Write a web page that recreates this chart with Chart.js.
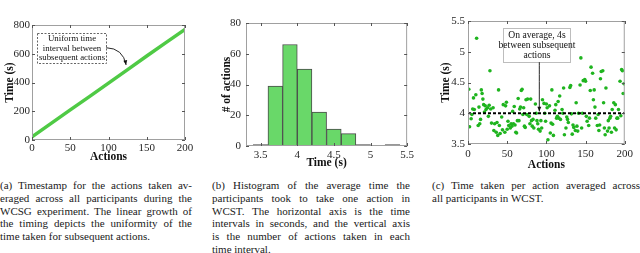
<!DOCTYPE html>
<html>
<head>
<meta charset="utf-8">
<script src="https://cdn.jsdelivr.net/npm/chart.js@4.4.1/dist/chart.umd.min.js"></script>
<style>
  html, body { margin: 0; padding: 0; background: #fff; }
  body { width: 640px; height: 253px; position: relative; overflow: hidden; font-family: 'Liberation Serif', 'Times New Roman', serif; }
  canvas { position: absolute; top: 0; }
  .cap { position: absolute; top: 179px; font-size: 11px; line-height: 12.8px; color: #1a1a1a; }
  .cap div { text-align: justify; text-align-last: justify; white-space: nowrap; height: 12.8px; }
  .cap div.last { text-align-last: left; }
</style>
</head>
<body>
<canvas id="chartA" width="200" height="164" style="left:0px"></canvas>
<canvas id="chartB" width="212" height="170" style="left:205px"></canvas>
<canvas id="chartC" width="212" height="172" style="left:425px"></canvas>

<div class="cap" style="left:0px; width:192px;">
  <div>(a) Timestamp for the actions taken av-</div>
  <div>eraged across all participants during the</div>
  <div>WCSG experiment. The linear growth of</div>
  <div>the timing depicts the uniformity of the</div>
  <div class="last">time taken for subsequent actions.</div>
</div>
<div class="cap" style="left:212px; width:198px;">
  <div>(b) Histogram of the average time the</div>
  <div>participants took to take one action in</div>
  <div>WCST. The horizontal axis is the time</div>
  <div>intervals in seconds, and the vertical axis</div>
  <div>is the number of actions taken in each</div>
  <div class="last">time interval.</div>
</div>
<div class="cap" style="left:432px; width:208px;">
  <div>(c) Time taken per action averaged across</div>
  <div class="last">all participants in WCST.</div>
</div>

<script>
// (a) marca de tiempo acumulada por acción
const lineActions = [0, 25, 50, 75, 100, 125, 150, 175, 200];
const lineTimes = [22, 116, 210, 302, 396, 490, 584, 677, 770];
const ticksActions = [0, 50, 100, 150, 200];
const ticksTimeA = [0, 200, 400, 600, 800];

// (b) histograma: centros de cada intervalo de 0.2 s y su conteo
const binCenters = [3.5, 3.7, 3.9, 4.1, 4.3, 4.5, 4.7, 4.9, 5.1, 5.3];
const binCounts = [1, 39, 66, 50, 22, 11, 8, 1, 0, 1];
const ticksTimeB = [3.5, 4, 4.5, 5, 5.5];
const ticksCount = [0, 20, 40, 60, 80];

// (c) tiempo por acción (promedio entre participantes)
const scatterActions = [
  1, 2, 4, 5, 6, 7, 8, 10, 11, 13,
  14, 15, 16, 17, 18, 19, 20, 21, 22, 23,
  25, 26, 27, 28, 29, 30, 32, 33, 34, 36,
  37, 38, 39, 40, 41, 43, 44, 45, 47, 48,
  49, 50, 51, 52, 54, 55, 56, 57, 58, 59,
  60, 61, 62, 63, 64, 65, 66, 67, 68, 69,
  70, 71, 72, 73, 74, 75, 76, 78, 79, 80,
  81, 82, 83, 84, 86, 87, 88, 89, 90, 92,
  93, 94, 95, 97, 98, 99, 100, 101, 102, 104,
  105, 106, 107, 108, 109, 111, 112, 113, 114, 115,
  116, 117, 118, 120, 121, 122, 123, 125, 126, 127,
  128, 130, 131, 132, 133, 134, 135, 137, 138, 139,
  140, 141, 143, 144, 145, 146, 147, 149, 150, 151,
  152, 154, 155, 156, 157, 159, 160, 161, 162, 163,
  165, 166, 167, 168, 169, 170, 172, 173, 174, 175,
  176, 178, 179, 180, 181, 182, 183, 184, 186, 187,
  188, 189, 190, 191, 192, 194, 195, 196, 197, 198,
  199
];
const scatterTimes = [
  4.39, 3.78, 3.91, 3.98, 4.07, 4.25, 4.06, 4.30, 5.22, 3.80,
  4.10, 3.83, 3.90, 4.38, 4.32, 4.23, 4.14, 4.02, 4.12, 4.06,
  4.09, 3.95, 4.13, 4.69, 4.07, 3.84, 4.09, 3.72, 3.83, 3.69,
  3.85, 3.64, 4.38, 3.80, 3.67, 3.94, 3.73, 4.14, 3.69, 4.12,
  4.18, 3.74, 3.87, 3.80, 3.76, 3.83, 3.79, 4.03, 3.83, 4.11,
  3.81, 3.69, 3.68, 3.88, 4.24, 3.88, 4.07, 4.10, 4.37, 4.39,
  3.98, 4.09, 3.79, 3.77, 4.22, 3.98, 4.23, 3.95, 3.83, 4.23,
  3.88, 3.79, 3.90, 3.76, 4.15, 4.00, 3.88, 3.83, 3.74, 3.71,
  3.88, 3.76, 4.22, 4.16, 4.00, 3.87, 4.15, 4.09, 3.57, 4.12,
  3.68, 3.84, 4.38, 3.82, 3.64, 4.05, 4.14, 3.92, 3.95, 4.19,
  3.92, 4.28, 3.90, 4.06, 4.00, 4.41, 3.65, 3.76, 3.94, 3.90,
  3.85, 4.42, 4.45, 3.99, 3.66, 3.81, 3.77, 3.72, 4.17, 3.79,
  3.71, 4.00, 4.46, 4.90, 3.76, 4.00, 4.53, 4.55, 4.52, 3.95,
  3.87, 3.80, 3.92, 4.37, 4.75, 4.65, 4.22, 4.38, 4.10, 3.92,
  3.80, 3.98, 3.72, 3.81, 4.56, 4.68, 4.69, 4.17, 3.76, 3.65,
  4.41, 3.71, 3.88, 3.76, 3.92, 3.95, 3.69, 4.06, 4.17, 3.76,
  4.14, 3.73, 3.92, 3.92, 4.06, 4.52, 3.96, 4.71, 4.69, 4.32,
  4.48
];
const avgTime = 4;
const ticksTimeC = [3.5, 4, 4.5, 5, 5.5];

const SERIF = "'Liberation Serif', 'Times New Roman', serif";
Chart.defaults.font.family = SERIF;
Chart.defaults.color = '#262626';
Chart.defaults.animation = false;

// Marco alrededor del área del gráfico y marcas de escala hacia dentro (estilo MATLAB)
const frameTicks = {
  id: 'frameTicks',
  afterDatasetsDraw(chart) {
    const { ctx, chartArea: a, scales: { x, y } } = chart;
    ctx.save();
    ctx.strokeStyle = '#a0a0a0';
    ctx.lineWidth = 1;
    ctx.strokeRect(a.left + 0.5, a.top + 0.5, a.width - 1, a.height - 1);
    ctx.strokeStyle = '#555';
    ctx.beginPath();
    x.ticks.forEach(t => {
      const px = Math.round(x.getPixelForValue(t.value)) + 0.5;
      ctx.moveTo(px, a.bottom); ctx.lineTo(px, a.bottom - 3);
      ctx.moveTo(px, a.top); ctx.lineTo(px, a.top + 3);
    });
    y.ticks.forEach(t => {
      const py = Math.round(y.getPixelForValue(t.value)) + 0.5;
      ctx.moveTo(a.left, py); ctx.lineTo(a.left + 3, py);
      ctx.moveTo(a.right, py); ctx.lineTo(a.right - 3, py);
    });
    ctx.stroke();
    ctx.restore();
  }
};

// Cuadro de texto con flecha, ubicado en coordenadas de datos
const noteBox = {
  id: 'noteBox',
  afterDraw(chart, args, opts) {
    if (!opts || !opts.lines) return;
    const { ctx, scales: { x, y } } = chart;
    const X = v => x.getPixelForValue(v), Y = v => y.getPixelForValue(v);
    const l = Math.round(X(opts.x1)) + 0.5, r = Math.round(X(opts.x2)) + 0.5;
    const t = Math.round(Y(opts.y1)) + 0.5, b = Math.round(Y(opts.y2)) + 0.5;
    ctx.save();
    ctx.fillStyle = '#fff';
    ctx.fillRect(l, t, r - l, b - t);
    ctx.strokeStyle = opts.borderColor;
    ctx.lineWidth = 1;
    ctx.setLineDash(opts.dash || []);
    ctx.strokeRect(l, t, r - l, b - t);
    ctx.setLineDash([]);
    ctx.fillStyle = '#111';
    ctx.font = opts.fontSize + 'px ' + SERIF;
    ctx.textAlign = 'center';
    ctx.textBaseline = 'middle';
    const cx = (l + r) / 2, cy = (t + b) / 2;
    const n = opts.lines.length;
    opts.lines.forEach((s, i) => ctx.fillText(s, cx, cy + (i - (n - 1) / 2) * opts.lineGap));
    // flecha
    const a = opts.arrow;
    const p0 = [X(a.from[0]), Y(a.from[1])], p2 = [X(a.to[0]), Y(a.to[1])];
    const p1 = a.ctrl ? [X(a.ctrl[0]), Y(a.ctrl[1])] : p0;
    ctx.strokeStyle = '#111';
    ctx.lineWidth = 0.9;
    ctx.beginPath();
    ctx.moveTo(p0[0], p0[1]);
    ctx.quadraticCurveTo(p1[0], p1[1], p2[0], p2[1]);
    ctx.stroke();
    const ang = Math.atan2(p2[1] - p1[1], p2[0] - p1[0]);
    ctx.fillStyle = '#111';
    ctx.beginPath();
    ctx.moveTo(p2[0], p2[1]);
    ctx.lineTo(p2[0] - 5 * Math.cos(ang - 0.4), p2[1] - 5 * Math.sin(ang - 0.4));
    ctx.lineTo(p2[0] - 5 * Math.cos(ang + 0.4), p2[1] - 5 * Math.sin(ang + 0.4));
    ctx.closePath();
    ctx.fill();
    ctx.restore();
  }
};

// Construye un eje lineal con marcas fijas
function axis(min, max, tickValues, size, isX, title, titlePad, tickPad) {
  return {
    type: 'linear',
    min: min,
    max: max,
    offset: false,
    grid: { display: false, drawTicks: false },
    border: { display: false },
    afterBuildTicks: s => { s.ticks = tickValues.map(v => ({ value: v })); },
    afterFit: s => { if (isX) s.height = size; else s.width = size; },
    ticks: { font: { size: 11 }, padding: tickPad, maxRotation: 0, autoSkip: false, callback: v => String(v) },
    title: { display: true, text: title, font: { size: 11.5, weight: 'bold' }, color: '#111', padding: titlePad }
  };
}

// (a)
new Chart(document.getElementById('chartA'), {
  type: 'line',
  data: {
    datasets: [{
      data: lineActions.map((a, i) => ({ x: a, y: lineTimes[i] })),
      borderColor: '#4fca45',
      borderWidth: 3.5,
      pointRadius: 0,
      tension: 0
    }]
  },
  options: {
    responsive: false,
    layout: { padding: { top: 25, right: 15, left: 0, bottom: 0 } },
    plugins: {
      legend: { display: false },
      tooltip: { enabled: false },
      noteBox: {
        x1: 6.5, x2: 97, y1: 746, y2: 537,
        borderColor: '#666', dash: [2, 1.5], fontSize: 8.8, lineGap: 9.6,
        lines: ['Uniform time', 'interval between', 'subsequent actions'],
        arrow: { from: [97, 642], ctrl: [119, 638], to: [123, 522] }
      }
    },
    scales: {
      x: axis(0, 200, ticksActions, 24, true, 'Actions', { top: 0, bottom: 0 }, 2),
      y: axis(0, 800, ticksTimeA, 32, false, 'Time (s)', { top: 3.5, bottom: 0 }, 2)
    }
  },
  plugins: [frameTicks, noteBox]
});

// (b)
new Chart(document.getElementById('chartB'), {
  type: 'bar',
  data: {
    datasets: [{
      data: binCenters.map((c, i) => ({ x: c, y: binCounts[i] })),
      backgroundColor: '#69d869',
      borderColor: '#4a4a4a',
      borderWidth: 1,
      borderSkipped: false,
      barPercentage: 1,
      categoryPercentage: 1
    }]
  },
  options: {
    responsive: false,
    layout: { padding: { top: 23, right: 2, left: 15, bottom: 0 } },
    plugins: { legend: { display: false }, tooltip: { enabled: false } },
    scales: {
      x: axis(3.3, 5.5, ticksTimeB, 24, true, 'Time (s)', { top: 0, bottom: 0 }, 3),
      y: axis(0, 80, ticksCount, 26, false, '# of actions', { top: 0, bottom: 0 }, 5)
    }
  },
  plugins: [frameTicks]
});

// (c)
new Chart(document.getElementById('chartC'), {
  type: 'scatter',
  data: {
    datasets: [{
      type: 'line',
      data: [{ x: 0, y: avgTime }, { x: 200, y: avgTime }],
      borderColor: '#000',
      borderWidth: 2.2,
      borderDash: [3, 2],
      pointRadius: 0
    }, {
      data: scatterActions.map((a, i) => ({ x: a, y: scatterTimes[i] })),
      backgroundColor: '#1fb41f',
      borderWidth: 0,
      pointRadius: 1.8
    }]
  },
  options: {
    responsive: false,
    layout: { padding: { top: 21, right: 6, left: 14, bottom: 0 } },
    plugins: {
      legend: { display: false },
      tooltip: { enabled: false },
      noteBox: {
        x1: 44.5, x2: 130, y1: 5.39, y2: 4.83,
        borderColor: '#bdbdbd', fontSize: 9.6, lineGap: 10,
        lines: ['On average, 4s', 'between subsequent', 'actions'],
        arrow: { from: [91, 4.83], to: [91, 4.03] }
      }
    },
    scales: {
      x: axis(0, 200, ticksActions, 28, true, 'Actions', { top: 0, bottom: 0 }, 4),
      y: axis(3.5, 5.5, ticksTimeC, 29, false, 'Time (s)', { top: 0, bottom: 0 }, 3)
    }
  },
  plugins: [frameTicks, noteBox]
});
</script>
</body>
</html>
